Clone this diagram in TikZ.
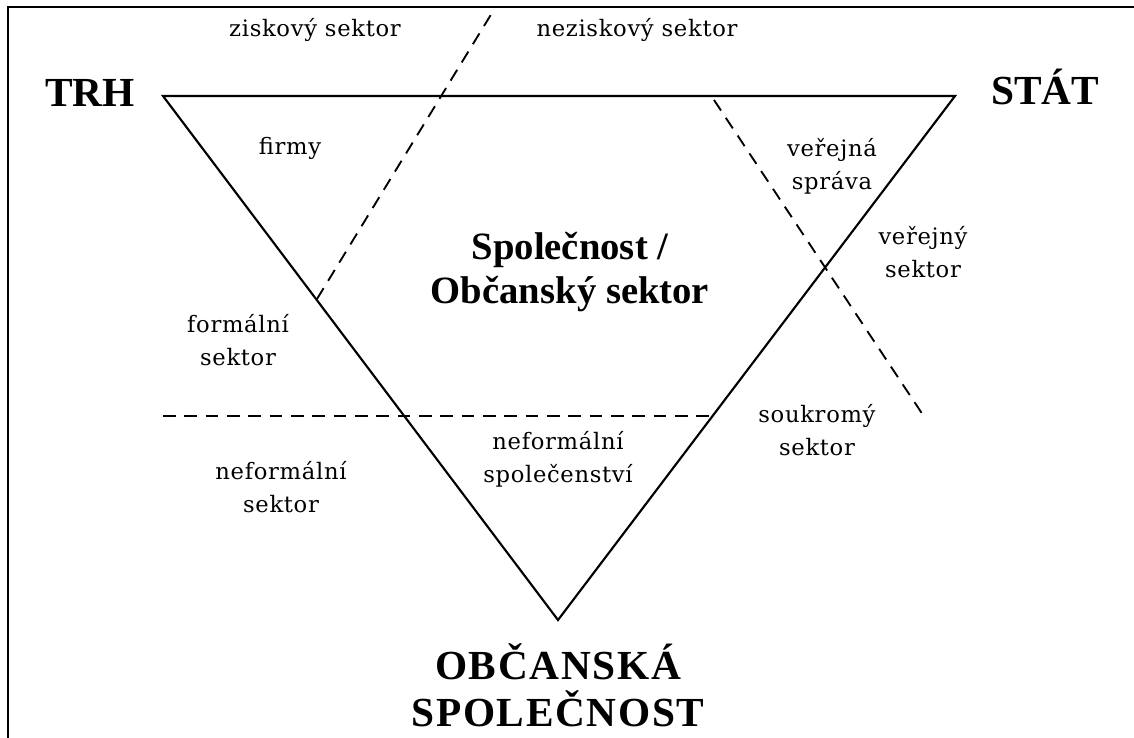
\documentclass[tikz,border=0pt]{standalone}
\usepackage{fontspec}
\setmainfont{Liberation Serif}
\newfontfamily\slabfont[LetterSpace=3]{DejaVu Serif}
\newfontfamily\widebold[LetterSpace=4]{Liberation Serif}
\begin{document}
\begin{tikzpicture}[x=0.75pt,y=-0.75pt,
  edge/.style={line width=1.6pt,line join=miter},
  divider/.style={line width=1.4pt,dash pattern=on 9.5pt off 6.5pt},
  small/.style={font=\slabfont\fontsize{17}{25}\selectfont,align=center,inner sep=0pt},
  pole/.style={font=\bfseries\fontsize{31}{35}\selectfont,align=center,inner sep=0pt},
  widepole/.style={font=\widebold\bfseries\fontsize{31}{35}\selectfont,align=center,inner sep=0pt},
  core/.style={font=\bfseries\fontsize{29}{33}\selectfont,align=center,inner sep=0pt}]
\useasboundingbox (0,0) rectangle (1134,738);
% frame (top and left edges)
\draw[line width=1.6pt] (1134,7) -- (8,7) -- (8,738);
% triangle corners
\coordinate (tl) at (163,96);
\coordinate (tr) at (955,96);
\coordinate (ap) at (558,620);
\draw[edge] (tl) -- (tr) -- (ap) -- cycle;
% dividing lines
\coordinate (d1a) at (317,299);
\coordinate (d1b) at (495,8);
\coordinate (d2a) at (714,100);
\coordinate (d2b) at (925,418);
\coordinate (d3a) at (163,416);
\coordinate (d3b) at (713,416);
\draw[divider] (d1a) -- (d1b);
\draw[divider] (d2a) -- (d2b);
\draw[divider] (d3a) -- (d3b);
% labels
\node[small] (zisk) at (315,30) {ziskový sektor};
\node[small] (nezisk) at (637,30) {neziskový sektor};
\node[pole] (trh) at (90,93) {TRH};
\node[pole,anchor=base] (stat) at (1045,105) {STÁT};
\node[small] (firmy) at (290,148) {firmy};
\node[small] (verspr) at (832,166) {veřejná\\správa};
\node[small] (versek) at (923,252) {veřejný\\sektor};
\node[core] (spol) at (570,272) {Společnost /\\Občanský sektor};
\node[small] (formal) at (238,340) {formální\\sektor};
\node[small] (soukr) at (817,430) {soukromý\\sektor};
\node[small] (nefsp) at (558,459) {neformální\\společenství};
\node[small] (nefsek) at (281,487) {neformální\\sektor};
\node[widepole] (obc) at (558,685) {OBČANSKÁ\\SPOLEČNOST};
\end{tikzpicture}
\end{document}
